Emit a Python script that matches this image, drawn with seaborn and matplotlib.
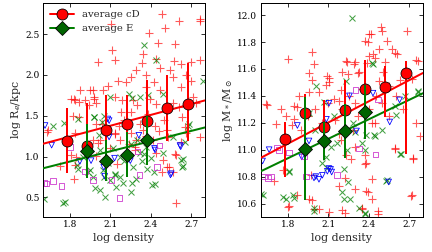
import numpy as np
import pandas as pd
import matplotlib
matplotlib.use("Agg")
import matplotlib.pyplot as plt
from matplotlib.lines import Line2D
import seaborn as sns

# ---------------- data ----------------
# Left panel: log Re/kpc vs log density
L_red_x = [2.483, 2.61, 2.765, 2.107, 2.505, 2.76, 2.387, 2.45, 2.58, 2.114, 2.13, 2.006, 2.34, 2.335,
           2.44, 2.57, 2.62, 2.70, 2.76, 2.29, 2.254, 2.155, 2.365, 2.47, 2.54, 2.566, 2.66, 2.70, 2.42,
           2.47, 2.365, 2.217, 2.08, 2.045, 1.946, 1.873, 1.836, 1.81, 1.91, 1.976, 1.996, 2.133, 2.188,
           2.266, 2.30, 2.39, 2.44, 2.56, 2.61, 2.733, 2.62, 2.71, 1.83, 1.87, 1.97, 1.98, 1.944,
           1.637, 1.82, 1.87, 1.99, 2.04, 2.166, 2.13, 1.845, 1.83, 2.006, 1.99, 2.15,
           1.627, 1.836, 1.81, 1.836, 1.725, 2.586, 2.56, 2.537, 2.586, 2.487, 2.44, 2.413, 2.29, 2.28,
           2.168, 2.02, 1.97, 2.13, 2.254, 2.34, 2.463, 2.524, 2.66, 2.62, 2.76, 2.517, 2.48, 2.58,
           2.65, 2.627, 2.517, 2.20, 2.25, 2.32, 2.38, 2.10, 2.06, 2.24, 2.36, 2.43, 2.50, 2.18, 2.28]
L_red_y = [2.746, 2.66, 2.66, 2.62, 2.57, 2.69, 2.51, 2.39, 2.38, 2.31, 2.18, 2.16, 2.25, 2.14,
           2.19, 2.17, 2.13, 2.16, 2.18, 2.06, 1.97, 1.93, 2.0, 2.08, 2.06, 1.97, 2.0, 1.93, 1.91,
           1.82, 1.85, 1.91, 1.87, 1.81, 1.81, 1.81, 1.69, 1.71, 1.69, 1.71, 1.65, 1.73, 1.69,
           1.69, 1.63, 1.71, 1.64, 1.65, 1.61, 1.65, 1.85, 1.73, 1.71, 1.67, 1.81, 1.73, 1.63,
           1.32, 1.50, 1.48, 1.40, 1.40, 1.38, 1.28, 0.99, 0.72, 1.16, 1.01, 0.91,
           1.295, 1.29, 1.02, 0.90, 0.88, 0.425, 0.815, 0.875, 1.02, 0.96, 1.04, 1.205, 1.205, 1.12,
           1.205, 1.205, 1.205, 1.29, 1.29, 1.33, 1.31, 1.245, 1.29, 1.18, 1.245, 0.87, 0.81, 1.03,
           1.36, 1.48, 1.32, 1.45, 1.55, 1.40, 1.52, 1.10, 1.30, 1.15, 1.25, 1.38, 1.45, 1.55, 1.08]
L_grn_x = [2.345, 2.44, 2.26, 2.315, 2.38, 2.487, 2.1, 1.863, 1.978, 1.755, 2.787, 2.04, 2.684, 2.24,
           1.75, 2.057, 2.02, 2.14, 2.254, 2.19, 2.41, 2.426, 2.62, 2.63, 2.315, 1.85, 1.97, 1.983,
           2.094, 2.168, 2.29, 2.13, 2.045, 1.946, 2.266, 2.33, 2.487, 2.02, 2.168, 2.365, 2.56,
           1.674, 1.98, 2.05, 2.018, 1.858, 1.93, 1.61, 1.76, 2.05, 2.13, 2.677, 2.65, 2.64, 2.64,
           2.345, 2.37, 2.26, 2.43, 2.20, 2.12, 2.30, 2.08, 1.90, 2.25, 2.40]
L_grn_y = [2.36, 2.18, 1.72, 1.73, 1.75, 1.77, 1.73, 1.46, 1.48, 1.41, 1.93, 1.42, 1.40, 1.77,
           0.43, 0.51, 0.59, 0.63, 0.57, 0.67, 0.65, 0.815, 0.96, 0.875, 1.04, 0.90, 0.75, 0.61,
           0.71, 0.75, 0.73, 0.79, 0.835, 0.835, 0.875, 0.94, 1.04, 1.08, 1.0, 1.12, 1.245,
           1.38, 1.48, 1.50, 1.26, 0.85, 0.81, 0.48, 0.44, 0.745, 0.77, 1.38, 1.18, 0.97, 0.89,
           1.03, 0.85, 0.68, 0.66, 0.95, 1.10, 1.20, 0.92, 1.00, 1.15, 0.98]
L_blu_x = [2.08, 1.615, 1.664, 1.873, 2.057, 2.13, 2.426, 2.544, 2.62, 2.09, 1.79, 1.956, 2.05,
           2.09, 2.31, 2.43, 2.615, 2.55, 2.247]
L_blu_y = [1.46, 1.38, 1.14, 0.94, 0.76, 0.98, 1.10, 0.775, 1.12, 1.44, 1.16, 0.95, 0.87,
           1.24, 1.26, 1.08, 1.135, 0.79, 0.95]
L_mag_x = [1.627, 1.676, 1.738, 1.80, 1.91, 1.97, 2.107, 2.168, 2.315, 2.446, 2.463, 2.30, 1.61]
L_mag_y = [0.67, 0.70, 0.64, 1.12, 0.815, 0.71, 0.71, 0.495, 0.775, 0.875, 1.135, 1.06, 0.68]

# Right panel: log M*/Msun vs log density
R_red_x = [1.797, 1.637, 1.976, 1.993, 1.956, 1.98, 2.104, 2.085, 2.227, 2.20, 2.288, 2.325, 2.247,
           2.387, 2.40, 2.374, 2.404, 2.497, 2.534, 2.472, 2.571, 2.608, 2.682, 2.448, 2.472, 2.546,
           2.632, 2.719, 2.767, 1.882, 1.846, 2.14, 1.784, 2.092, 2.104, 1.644, 1.87, 1.956, 2.03,
           2.19, 2.178, 2.492, 2.418, 2.39, 2.59, 2.234, 2.296, 2.32, 2.43, 2.517, 2.75, 2.505, 2.677,
           1.76, 1.797, 1.87, 1.969, 1.98, 2.104, 2.03, 2.20, 2.19, 2.227, 2.30, 2.374, 2.374, 2.42,
           2.39, 2.35, 2.47, 2.595, 2.73, 2.72, 1.846, 1.71, 1.698, 1.956, 1.99, 1.81, 2.178,
           2.59, 2.726, 2.382, 2.27, 2.22, 2.296, 2.382, 2.42, 2.345, 2.468, 2.713, 2.22, 2.443,
           1.75, 1.83, 1.90, 1.95, 2.00, 2.05, 2.10, 2.15, 2.20, 2.25, 2.30, 2.35, 2.40, 2.45,
           2.50, 2.55, 2.60, 2.65, 2.75, 2.78, 2.28, 2.32, 2.18, 2.42]
R_red_y = [11.676, 11.337, 11.725, 11.634, 11.572, 11.52, 11.535, 11.48, 11.66, 11.58, 11.634, 11.58, 11.56,
           11.647, 11.696, 11.807, 11.857, 11.88, 11.807, 11.745, 11.745, 11.708, 11.88, 11.684, 11.51, 11.473,
           11.517, 11.522, 11.658, 11.40, 11.325, 11.374, 11.25, 11.55, 11.505, 11.33, 11.315, 11.426, 11.426,
           11.44, 11.365, 11.91, 11.86, 11.80, 11.72, 11.65, 11.65, 11.57, 11.71, 11.65, 11.67, 11.575, 11.60,
           10.847, 10.575, 10.66, 10.81, 10.625, 10.537, 10.56, 10.55, 11.07, 10.96, 11.02, 10.96, 10.897, 10.785,
           10.686, 10.567, 10.525, 11.008, 10.934, 10.66, 11.226, 11.19, 10.768, 10.63, 10.557, 10.58, 10.73,
           11.015, 10.94, 10.904, 10.93, 10.79, 10.706, 10.693, 10.63, 10.557, 10.545, 10.656, 10.533, 11.20,
           11.30, 11.18, 11.15, 11.25, 11.30, 11.20, 11.35, 11.22, 11.30, 11.40, 11.35, 11.45, 11.30, 11.40,
           11.35, 11.25, 11.40, 11.30, 11.20, 11.10, 11.15, 11.25, 11.12, 11.20]
R_grn_x = [2.276, 2.006, 2.424, 2.227, 2.767, 2.596, 2.43, 2.664, 2.763, 2.067, 1.76, 1.834, 1.81,
           1.993, 2.214, 2.24, 2.30, 2.436, 2.20, 2.214, 2.325, 2.374, 2.534, 2.632, 2.116, 2.079,
           1.612, 1.784, 1.846, 2.092, 1.956, 2.14, 1.81, 1.99, 1.60, 2.369, 2.382, 2.443, 2.64,
           2.53, 2.247, 2.259, 2.37, 2.60, 2.00, 2.16, 2.28, 2.50, 2.05, 2.35]
R_grn_y = [11.98, 11.47, 11.647, 11.51, 11.436, 11.325, 11.64, 11.40, 11.426, 11.352, 10.65, 10.66, 10.834,
           10.563, 10.86, 10.995, 11.13, 11.107, 10.686, 10.636, 10.563, 10.525, 10.775, 10.97, 11.02, 10.946,
           10.66, 10.63, 10.644, 10.867, 11.275, 11.25, 10.84, 10.545, 10.67, 11.0, 11.11, 11.10, 10.966,
           10.77, 10.757, 10.63, 10.533, 11.26, 11.15, 11.05, 11.20, 11.15, 10.90, 11.05]
R_blu_x = [2.256, 2.104, 2.43, 2.627, 2.085, 2.308, 2.554, 1.87, 1.956, 1.612, 1.993, 2.03, 2.092,
           2.116, 1.661, 1.902, 2.006, 2.055, 2.104, 2.124, 2.546]
R_blu_y = [11.40, 11.345, 11.42, 11.37, 11.226, 11.139, 11.206, 11.18, 11.065, 10.916, 10.79, 10.78, 10.84,
           10.854, 11.0, 10.946, 10.80, 10.81, 10.86, 10.834, 10.76]
R_mag_x = [2.30, 2.468, 1.624, 1.674, 1.735, 1.932, 2.325, 2.448, 2.165, 1.81, 1.92, 1.65, 1.72]
R_mag_y = [11.443, 11.374, 10.80, 10.80, 11.0, 10.80, 11.008, 10.964, 10.81, 10.98, 10.953, 10.79, 11.016]

# Binned averages
avg_cD_x = [1.775, 1.927, 2.07, 2.22, 2.372, 2.52, 2.671]
avg_cD_R = [1.196, 1.135, 1.319, 1.40, 1.433, 1.593, 1.643]
avg_cD_R_lo = [0.40, 0.35, 0.40, 0.35, 0.45, 0.40, 0.45]
avg_cD_R_hi = [0.40, 0.52, 0.43, 0.35, 0.50, 0.40, 0.50]
avg_cD_M = [11.077, 11.272, 11.168, 11.295, 11.448, 11.463, 11.567]
avg_cD_M_lo = [0.28, 0.20, 0.20, 0.22, 0.22, 0.22, 0.60]
avg_cD_M_hi = [0.13, 0.14, 0.20, 0.22, 0.22, 0.16, 0.09]

avg_E_x = [1.927, 2.07, 2.22, 2.372]
avg_E_R = [1.07, 0.947, 1.024, 1.20]
avg_E_R_err = [0.33, 0.25, 0.28, 0.30]
avg_E_M = [11.008, 11.065, 11.137, 11.28]
avg_E_M_err = [0.38, 0.14, 0.20, 0.20]

# Linear fits (slope, value at x = 1.6)
fit_cD_R = (0.443, 1.156)
fit_E_R = (0.417, 0.856)
fit_cD_M = (0.525, 10.94)
fit_E_M = (0.483, 10.84)

x_ticks = [1.8, 2.1, 2.4, 2.7]
xlim = (1.6, 2.8)
ylim_R = (0.26, 2.88)
ylim_M = (10.5, 12.09)
yticks_R = [0.5, 1.0, 1.5, 2.0, 2.5]
yticks_M = [10.6, 10.8, 11.0, 11.2, 11.4, 11.6, 11.8, 12.0]

# ---------------- style ----------------
sns.set_style("ticks")
plt.rcParams.update({
    "font.family": ["DejaVu Serif"],
    "mathtext.fontset": "dejavuserif",
    "xtick.direction": "in", "ytick.direction": "in",
    "xtick.top": True, "ytick.right": True,
    "xtick.major.size": 4, "ytick.major.size": 4,
    "axes.edgecolor": "black", "axes.linewidth": 1.0,
    "xtick.color": "black", "ytick.color": "black",
})

RED = "#ff0000"
GREEN = "#007f00"
DGREEN = "#006400"
BLUE = "#0000ff"
MAG = "#cc33cc"

fig = plt.figure(figsize=(6.0, 3.5), dpi=72)
axL = fig.add_axes([0.0995, 0.139, 0.375, 0.849])
axR = fig.add_axes([0.604, 0.139, 0.375, 0.849])


def draw(ax, rx, ry, gx, gy, bx, by, mx, my, ax_avg, cD, cD_lo, cD_hi, E, E_err, fcd, fe):
    sns.scatterplot(x=rx, y=ry, ax=ax, marker="+", color=RED, s=70, linewidth=1.1, alpha=0.65, zorder=2)
    sns.scatterplot(x=gx, y=gy, ax=ax, marker="x", color=GREEN, s=36, linewidth=1.0, alpha=0.75, zorder=2)
    sns.scatterplot(x=bx, y=by, ax=ax, marker="v", facecolor="none", edgecolor=BLUE, s=32, linewidth=0.8, zorder=2)
    sns.scatterplot(x=mx, y=my, ax=ax, marker="s", facecolor="none", edgecolor=MAG, s=32, linewidth=0.8, zorder=2)
    xl = np.array(xlim)
    sns.lineplot(x=xl, y=fcd[1] + fcd[0] * (xl - xlim[0]), ax=ax, color=RED, linewidth=2, zorder=3)
    sns.lineplot(x=xl, y=fe[1] + fe[0] * (xl - xlim[0]), ax=ax, color=GREEN, linewidth=2, zorder=3)
    ax.errorbar(ax_avg, cD, yerr=[cD_lo, cD_hi], fmt="o", color=RED, ms=11, mec="black", mew=0.8,
                ecolor=RED, elinewidth=2, capsize=0, zorder=5)
    ax.errorbar(avg_E_x, E, yerr=E_err, fmt="D", color=DGREEN, ms=10, mec="black", mew=0.8,
                ecolor=GREEN, elinewidth=2, capsize=0, zorder=6)
    ax.set_xlim(*xlim)
    ax.set_xticks(x_ticks)
    ax.set_xticklabels([f"{v:.1f}" for v in x_ticks])
    ax.set_xlabel("log density", fontsize=11)
    ax.tick_params(labelsize=9)
    for s in ax.spines.values():
        s.set_visible(True)


draw(axL, L_red_x, L_red_y, L_grn_x, L_grn_y, L_blu_x, L_blu_y, L_mag_x, L_mag_y,
     avg_cD_x, avg_cD_R, avg_cD_R_lo, avg_cD_R_hi, avg_E_R, avg_E_R_err, fit_cD_R, fit_E_R)
axL.set_ylim(*ylim_R)
axL.set_yticks(yticks_R)
axL.set_yticklabels([f"{v:.1f}" for v in yticks_R])
axL.set_ylabel(r"log R$_e$/kpc", fontsize=11, labelpad=2)

draw(axR, R_red_x, R_red_y, R_grn_x, R_grn_y, R_blu_x, R_blu_y, R_mag_x, R_mag_y,
     avg_cD_x, avg_cD_M, avg_cD_M_lo, avg_cD_M_hi, avg_E_M, avg_E_M_err, fit_cD_M, fit_E_M)
axR.set_ylim(*ylim_M)
axR.set_yticks(yticks_M)
axR.set_yticklabels([f"{v:.1f}" for v in yticks_M])
axR.set_ylabel(r"log M$_*$/M$_\odot$", fontsize=11, labelpad=2)

handles = [
    Line2D([], [], color=RED, marker="o", ms=11, mec="black", mew=0.8, lw=2),
    Line2D([], [], color=GREEN, marker="D", ms=10, mfc=DGREEN, mec="black", mew=0.8, lw=2),
]
axL.legend(handles, ["average cD", "average E"], loc="upper left", frameon=False,
           fontsize=10, handlelength=2.4, borderaxespad=0.3, labelspacing=0.5, handletextpad=0.8)

fig.savefig("out.png", dpi=72)
